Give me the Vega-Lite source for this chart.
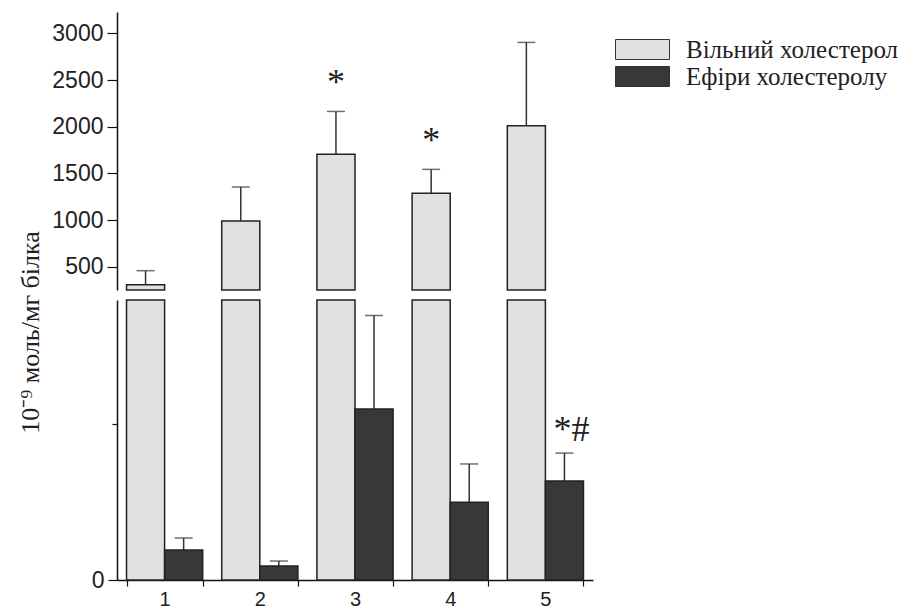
{
  "$schema": "https://vega.github.io/schema/vega-lite/v6.json",
  "background": "white",
  "padding": {"left": 16, "top": 12, "right": 5, "bottom": 0},
  "bounds": "flush",
  "spacing": 10,
  "data": {"values": [
    {"group": "1", "series": "Вільний холестерол", "value": 307, "upper": 457, "note": ""},
    {"group": "2", "series": "Вільний холестерол", "value": 990, "upper": 1354, "note": ""},
    {"group": "3", "series": "Вільний холестерол", "value": 1704, "upper": 2164, "note": "*"},
    {"group": "4", "series": "Вільний холестерол", "value": 1286, "upper": 1543, "note": "*"},
    {"group": "5", "series": "Вільний холестерол", "value": 2010, "upper": 2904, "note": ""},
    {"group": "1", "series": "Ефіри холестеролу", "value": 19.3, "upper": 27, "note": ""},
    {"group": "2", "series": "Ефіри холестеролу", "value": 9, "upper": 12.2, "note": ""},
    {"group": "3", "series": "Ефіри холестеролу", "value": 110, "upper": 170, "note": ""},
    {"group": "4", "series": "Ефіри холестеролу", "value": 50, "upper": 74.6, "note": ""},
    {"group": "5", "series": "Ефіри холестеролу", "value": 63.6, "upper": 81.6, "note": "*#"}
  ]},
  "resolve": {"scale": {"y": "independent", "x": "shared", "xOffset": "shared", "color": "shared"}, "legend": {"color": "shared"}},
  "config": {
    "view": {"stroke": null},
    "axis": {"grid": false, "domainColor": "#111", "domainWidth": 1.5, "tickColor": "#111", "tickWidth": 1.2,
      "labelFont": "Liberation Sans", "labelFontSize": 23, "labelColor": "#222",
      "titleFont": "Liberation Serif", "titleFontSize": 26, "titleColor": "#222", "titleFontWeight": "normal"},
    "legend": {"orient": "none", "legendX": 498, "legendY": 24, "title": null,
      "symbolType": "M-1,-0.37H1V0.37H-1Z", "symbolSize": 2916, "clipHeight": 27,
      "symbolStrokeColor": "#333", "symbolStrokeWidth": 1, "symbolOpacity": 1,
      "labelFont": "Liberation Serif", "labelFontSize": 25, "labelColor": "#222", "labelOffset": 16, "labelLimit": 0, "padding": 0, "rowPadding": 0}
  },
  "vconcat": [
    {
      "width": 476, "height": 278,
      "transform": [{"filter": "datum.series === 'Вільний холестерол'"}],
      "encoding": {
        "x": {"field": "group", "type": "ordinal", "axis": null, "scale": {"paddingInner": 0.2, "paddingOuter": 0.1}},
        "xOffset": {"field": "series", "type": "nominal", "scale": {"domain": ["Вільний холестерол", "Ефіри холестеролу"], "paddingInner": 0, "paddingOuter": 0}}
      },
      "layer": [
        {"mark": {"type": "rule", "stroke": "#333", "strokeWidth": 1.5},
         "encoding": {"y": {"field": "value", "type": "quantitative"}, "y2": {"field": "upper"}}},
        {"mark": {"type": "tick", "color": "#333", "thickness": 1.5, "size": 18},
         "encoding": {"y": {"field": "upper", "type": "quantitative"}}},
        {"mark": {"type": "bar", "stroke": "#222", "strokeWidth": 1.5},
         "encoding": {
           "y": {"field": "value", "type": "quantitative", "title": null,
             "scale": {"domain": [250, 3230], "zero": false, "nice": false, "clamp": true},
             "axis": {"values": [500, 750, 1000, 1250, 1500, 1750, 2000, 2250, 2500, 2750, 3000], "format": "d",
               "labelExpr": "datum.value % 500 === 0 ? datum.label : ''",
               "tickSize": {"condition": {"test": "datum.value % 500 === 0", "value": 10}, "value": 6},
               "labelPadding": 4}},
           "color": {"field": "series", "type": "nominal",
             "scale": {"domain": ["Вільний холестерол", "Ефіри холестеролу"], "range": ["#e1e1e1", "#383838"]}}
         }},
        {"transform": [{"filter": "datum.note !== ''"}],
         "mark": {"type": "text", "font": "Liberation Serif", "fontSize": 36, "color": "#222", "baseline": "alphabetic", "dy": -17},
         "encoding": {"y": {"field": "upper", "type": "quantitative"}, "text": {"field": "note"}}}
      ]
    },
    {
      "width": 476, "height": 280,
      "encoding": {
        "x": {"field": "group", "type": "ordinal", "title": null, "scale": {"paddingInner": 0.2, "paddingOuter": 0.1},
          "axis": {"labelAngle": 0, "tickBand": "extent", "tickSize": 6, "labelPadding": 3, "labelFontSize": 20}},
        "xOffset": {"field": "series", "type": "nominal", "scale": {"domain": ["Вільний холестерол", "Ефіри холестеролу"], "paddingInner": 0, "paddingOuter": 0}}
      },
      "layer": [
        {"transform": [{"filter": "datum.series === 'Ефіри холестеролу'"}],
         "mark": {"type": "rule", "stroke": "#333", "strokeWidth": 1.5},
         "encoding": {"y": {"field": "value", "type": "quantitative"}, "y2": {"field": "upper"}}},
        {"transform": [{"filter": "datum.series === 'Ефіри холестеролу'"}],
         "mark": {"type": "tick", "color": "#333", "thickness": 1.5, "size": 18},
         "encoding": {"y": {"field": "upper", "type": "quantitative"}}},
        {"mark": {"type": "bar", "stroke": "#222", "strokeWidth": 1.5},
         "encoding": {
           "y": {"field": "value", "type": "quantitative",
             "scale": {"domain": [0, 180], "nice": false, "clamp": true},
             "axis": {"values": [0, 100], "title": "10⁻⁹ моль/мг білка",
               "labelExpr": "datum.value === 0 ? '0' : ''",
               "tickSize": {"condition": {"test": "datum.value === 0", "value": 9}, "value": 5},
               "labelPadding": 4,
               "titleX": -87, "titleY": 32, "titleAngle": -90, "titleAlign": "center", "titleBaseline": "middle"}},
           "color": {"field": "series", "type": "nominal",
             "scale": {"domain": ["Вільний холестерол", "Ефіри холестеролу"], "range": ["#e1e1e1", "#383838"]}}
         }},
        {"transform": [{"filter": "datum.note !== '' && datum.series === 'Ефіри холестеролу'"}],
         "mark": {"type": "text", "font": "Liberation Serif", "fontSize": 36, "color": "#222", "baseline": "alphabetic", "dy": -12, "dx": 7},
         "encoding": {"y": {"field": "upper", "type": "quantitative"}, "text": {"field": "note"}}}
      ]
    }
  ]
}
